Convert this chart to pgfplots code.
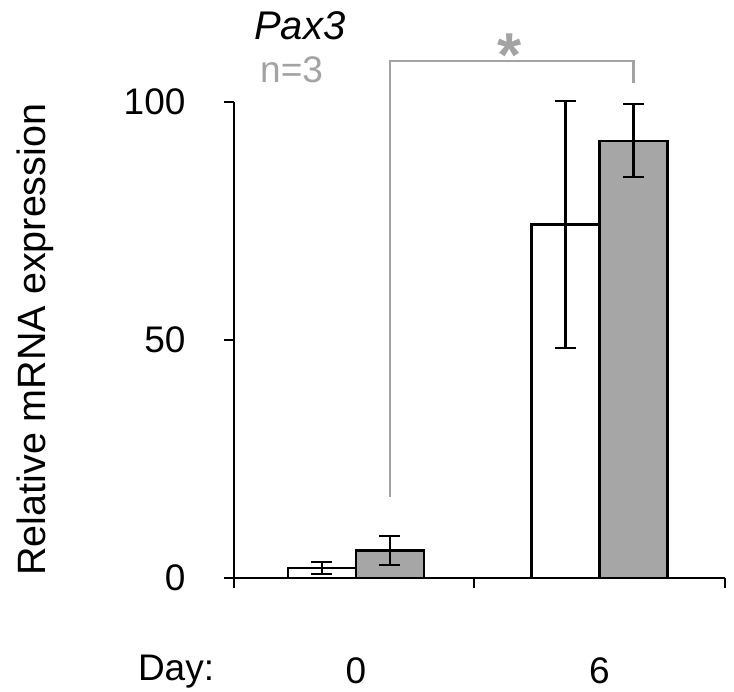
\documentclass[border=0pt]{standalone}
\usepackage{pgfplots}
\pgfplotsset{compat=1.18}
\usepackage{fontspec}
\setmainfont{Liberation Sans}
\definecolor{barg}{HTML}{A6A6A6}
\definecolor{annog}{HTML}{A3A3A3}
\begin{document}
\begin{tikzpicture}
\useasboundingbox (-234pt,-114.3pt) rectangle (500pt,577.7pt);
\begin{axis}[
  at={(0pt,0pt)}, anchor=south west,
  scale only axis, width=491pt, height=476pt,
  xmin=-0.5, xmax=1.515, ymin=0, ymax=100,
  clip=false,
  axis x line=bottom, axis y line=left,
  axis line style={-, line width=2.2pt, black},
  tick align=outside, major tick length=10pt,
  tick style={line width=2.2pt, black},
  ytick={0,50,100},
  xtick={-0.5,0.485,1.515}, xticklabels={},
  extra x ticks={0,1}, extra x tick labels={0,6},
  extra x tick style={major tick length=0pt, xticklabel style={anchor=base, yshift=-106pt}},
  /pgf/number format/assume math mode=true,
  tick label style={font=\fontsize{37}{40}\selectfont},
  yticklabel style={xshift=-35pt},
  ylabel={Relative mRNA expression},
  ylabel style={font=\fontsize{39.5}{42}\selectfont, at={(axis description cs:-0.405,0.5)}, anchor=center},
  ybar, bar width=0.279,
]
\addplot[fill=white, draw=black, line width=2.2pt, bar shift=-0.1395,
  error bars/.cd, y dir=both, y explicit,
  error bar style={line width=2.2pt, black},
  error mark options={rotate=90, mark size=10.5pt, line width=2.2pt, black}]
  coordinates {(0,2.0) +- (0,1.3) (1,74.2) +- (0,25.9)};
\addplot[fill=barg, draw=black, line width=2.2pt, bar shift=0.1395,
  error bars/.cd, y dir=both, y explicit,
  error bar style={line width=2.2pt, black},
  error mark options={rotate=90, mark size=10.5pt, line width=2.2pt, black}]
  coordinates {(0,5.7) +- (0,3.05) (1,91.8) +- (0,7.7)};
\draw[annog, line width=2.2pt] (axis cs:0.1395,17) |- (axis cs:1.1395,108.5) -- (axis cs:1.1395,103.9);
\node[annog, font=\fontsize{62}{62}\selectfont\bfseries] at (axis cs:0.632,109.8) {*};
\node[anchor=base, font=\fontsize{40}{42}\selectfont\itshape] at (axis description cs:0.134,1.130) {Pax3};
\node[anchor=base west, annog, inner sep=0pt, font=\fontsize{37}{40}\selectfont] at (axis description cs:0.053,1.040) {n=3};
\node[anchor=base, font=\fontsize{37}{40}\selectfont] at (axis description cs:-0.118,-0.216) {Day:};
\end{axis}
\end{tikzpicture}
\end{document}
